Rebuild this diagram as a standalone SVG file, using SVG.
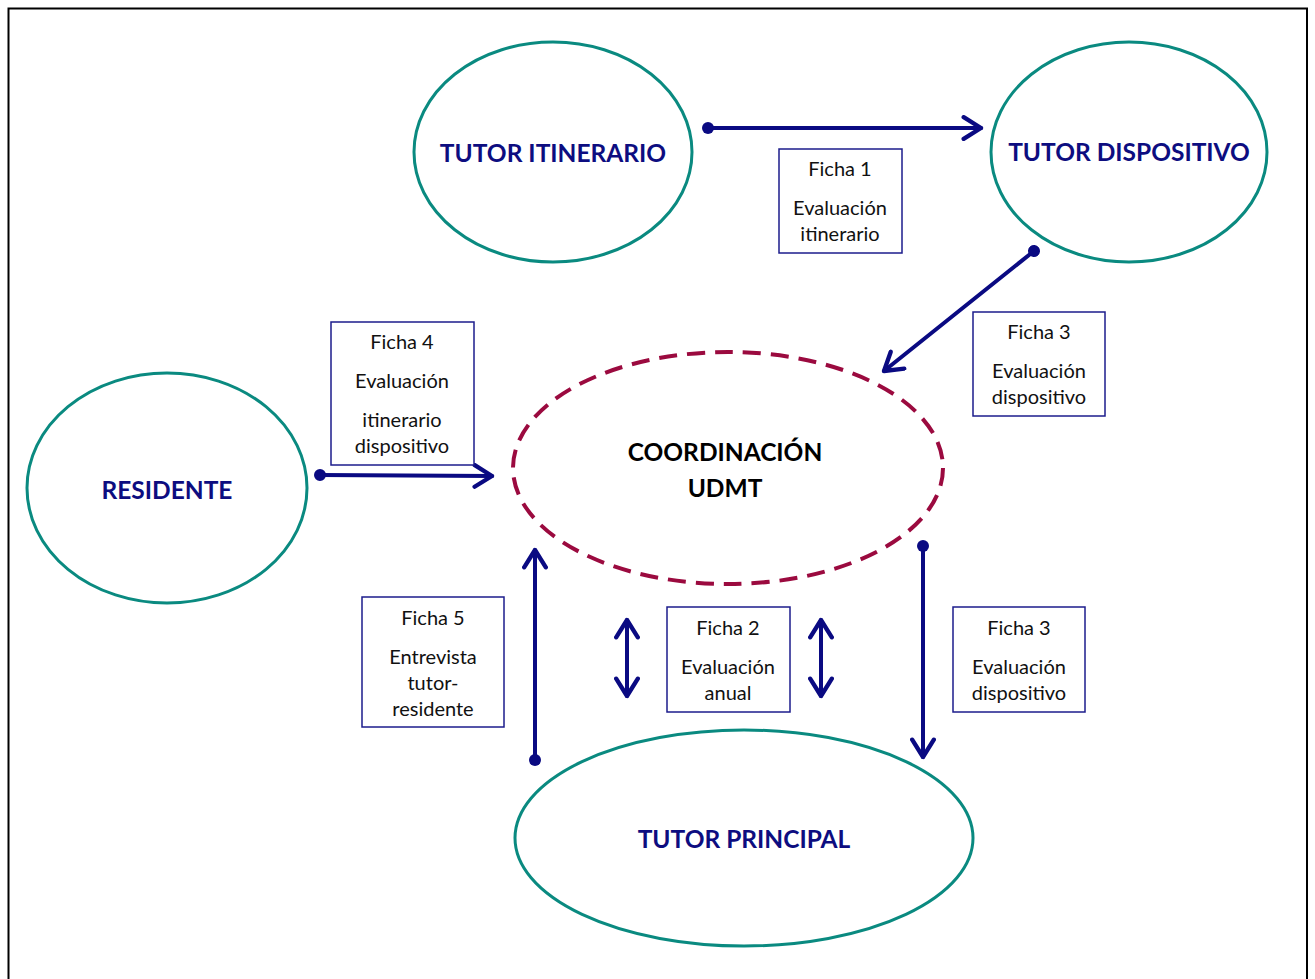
<svg xmlns="http://www.w3.org/2000/svg" width="1315" height="979" viewBox="0 0 1315 979">
<style>
.node{fill:#fff;stroke:#0a8a80;stroke-width:3}
.coord{fill:#fff;stroke:#9b0a3f;stroke-width:4;stroke-dasharray:18 10}
.lbl{font-family:Lato,"Open Sans",sans-serif;font-weight:bold;font-size:24.5px;fill:#0d0d80;text-anchor:middle}
.lblk{font-family:Lato,"Open Sans",sans-serif;font-weight:bold;font-size:24.5px;fill:#000;text-anchor:middle}
.box{fill:#fff;stroke:#1c1c8c;stroke-width:1.5}
.bt{font-family:Lato,"Open Sans",sans-serif;font-size:20px;fill:#111;text-anchor:middle}
.conn{stroke:#0a0a82;stroke-width:4;fill:none;stroke-linecap:round}
</style>
<defs>
<marker id="arr" viewBox="0 0 12 12" refX="10" refY="6" markerWidth="6.5" markerHeight="6.5" orient="auto-start-reverse" markerUnits="strokeWidth">
<path d="M2,1 L10,6 L2,11" fill="none" stroke="#0a0a82" stroke-width="2" stroke-linecap="round" stroke-linejoin="round"/>
</marker>
<marker id="dot" viewBox="0 0 10 10" refX="5" refY="5" markerWidth="3" markerHeight="3" orient="auto" markerUnits="strokeWidth">
<circle cx="5" cy="5" r="5" fill="#0a0a82"/>
</marker>
</defs>
<rect x="8.5" y="8.5" width="1298.5" height="1000" fill="none" stroke="#000" stroke-width="2"/>
<g id="tutor-itinerario"><ellipse class="node" cx="553" cy="152" rx="139" ry="110"/><text class="lbl" x="553" y="162">TUTOR ITINERARIO</text></g>
<g id="tutor-dispositivo"><ellipse class="node" cx="1129" cy="152" rx="138" ry="110"/><text class="lbl" x="1129" y="161">TUTOR DISPOSITIVO</text></g>
<g id="residente"><ellipse class="node" cx="167" cy="488" rx="140" ry="115"/><text class="lbl" x="167" y="499">RESIDENTE</text></g>
<g id="coordinacion"><ellipse class="coord" cx="728" cy="468" rx="215" ry="116"/><text class="lblk" x="725" y="461">COORDINACIÓN</text><text class="lblk" x="725" y="497">UDMT</text></g>
<g id="tutor-principal"><ellipse class="node" cx="744" cy="838" rx="229" ry="108"/><text class="lbl" x="744" y="848">TUTOR PRINCIPAL</text></g>
<g id="connectors">
<line class="conn" x1="708" y1="128" x2="981" y2="128" marker-start="url(#dot)" marker-end="url(#arr)"/>
<line class="conn" x1="1034" y1="251" x2="884" y2="371" marker-start="url(#dot)" marker-end="url(#arr)"/>
<line class="conn" x1="320" y1="475" x2="492" y2="476" marker-start="url(#dot)" marker-end="url(#arr)"/>
<line class="conn" x1="535" y1="760" x2="535" y2="550" marker-start="url(#dot)" marker-end="url(#arr)"/>
<line class="conn" x1="627" y1="620" x2="627" y2="696" marker-start="url(#arr)" marker-end="url(#arr)"/>
<line class="conn" x1="821" y1="620" x2="821" y2="696" marker-start="url(#arr)" marker-end="url(#arr)"/>
<line class="conn" x1="923" y1="546" x2="923" y2="757" marker-start="url(#dot)" marker-end="url(#arr)"/>
</g>
<g id="ficha1"><rect class="box" x="779" y="149" width="123" height="104"/><text class="bt" x="840" y="176">Ficha 1</text><text class="bt" x="840" y="215">Evaluación</text><text class="bt" x="840" y="241">itinerario</text></g>
<g id="ficha3a"><rect class="box" x="973" y="312" width="132" height="104"/><text class="bt" x="1039" y="339">Ficha 3</text><text class="bt" x="1039" y="378">Evaluación</text><text class="bt" x="1039" y="404">dispositivo</text></g>
<g id="ficha4"><rect class="box" x="331" y="322" width="143" height="143"/><text class="bt" x="402" y="349">Ficha 4</text><text class="bt" x="402" y="388">Evaluación</text><text class="bt" x="402" y="427">itinerario</text><text class="bt" x="402" y="453">dispositivo</text></g>
<g id="ficha5"><rect class="box" x="362" y="597" width="142" height="130"/><text class="bt" x="433" y="625">Ficha 5</text><text class="bt" x="433" y="664">Entrevista</text><text class="bt" x="433" y="690">tutor-</text><text class="bt" x="433" y="716">residente</text></g>
<g id="ficha2"><rect class="box" x="667" y="607" width="123" height="105"/><text class="bt" x="728" y="635">Ficha 2</text><text class="bt" x="728" y="674">Evaluación</text><text class="bt" x="728" y="700">anual</text></g>
<g id="ficha3b"><rect class="box" x="953" y="607" width="132" height="105"/><text class="bt" x="1019" y="635">Ficha 3</text><text class="bt" x="1019" y="674">Evaluación</text><text class="bt" x="1019" y="700">dispositivo</text></g>
</svg>
